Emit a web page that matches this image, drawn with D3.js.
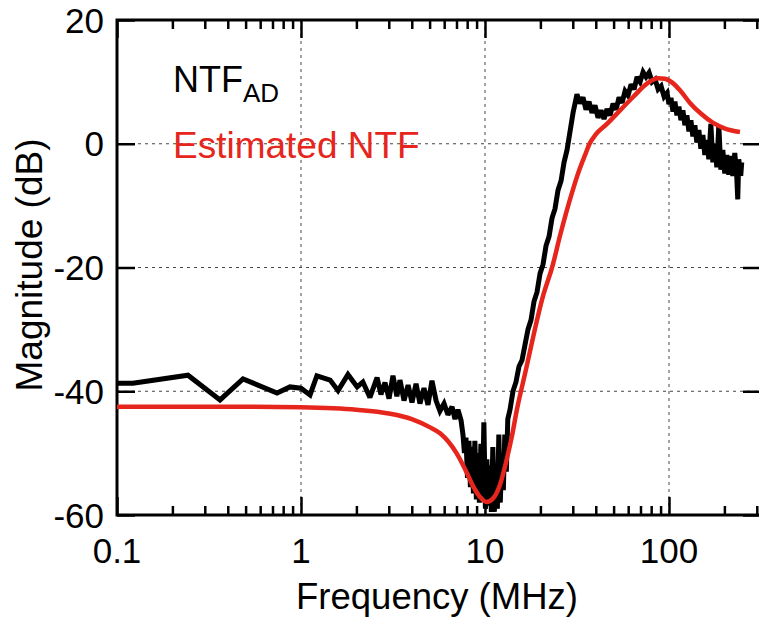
<!DOCTYPE html>
<html>
<head>
<meta charset="utf-8">
<script src="https://cdn.jsdelivr.net/npm/d3@7/dist/d3.min.js"></script>
<style>
  html, body { margin: 0; padding: 0; background: #fff; }
  svg text { font-family: "Liberation Sans", Arial, Helvetica, sans-serif; }
</style>
</head>
<body>
<svg id="chart" width="759" height="622"></svg>
<script>
// Measured noise transfer function (frequency in MHz, magnitude in dB)
const measuredFreq = [
  // low band, coarse sweep
  0.1, 0.122, 0.243, 0.363, 0.484, 0.741, 0.871, 1.0, 1.12, 1.22, 1.44, 1.59, 1.80, 2.02, 2.17,
  2.37, 2.59, 2.72, 2.86, 3.01, 3.16, 3.32, 3.45, 3.63, 3.82, 4.01, 4.22, 4.43, 4.66, 4.90,
  5.15, 5.42, 5.69, 5.99, 6.29, 6.62, 6.87, 7.13, 7.41,
  // notch
  7.59, 7.73, 7.88, 8.03, 8.18, 8.33, 8.49, 8.65, 8.81, 8.98, 9.15, 9.32, 9.50, 9.68, 9.86,
  10.05, 10.24, 10.43, 10.63, 10.83, 11.03, 11.24, 11.45, 11.67, 11.89, 12.11, 12.34, 12.58, 12.81, 13.06,
  13.30,
  // rising edge
  13.67, 14.19, 14.74, 15.30, 15.89, 16.50, 17.13, 17.78, 18.46, 19.17, 19.91, 20.67, 21.46, 22.28, 23.14,
  24.02, 24.94, 25.90, 26.89, 27.92, 28.99, 30.10, 31.1, 31.6,
  // peak region
  32.83, 34.09, 35.39, 36.75, 38.16, 39.62, 41.14, 42.71, 44.35, 46.05, 47.81, 49.65, 51.55, 53.52, 55.57,
  57.70, 59.91, 62.21, 64.59, 67.06, 69.63, 72.30, 75.07, 77.94, 80.93, 84.03, 87.24, 90.58, 94.05, 97.65,
  // upper band
  99.9, 102.5, 105.1, 107.7, 110.4, 113.2, 116.1, 119.0, 122.0, 125.1, 128.3, 131.5, 134.8, 138.2, 141.7,
  145.3, 149.0, 152.8, 156.6, 160.6, 164.6, 168.8, 173.1, 177.5, 181.9, 186.5, 191.3, 196.1, 201.0, 206.1,
  211.3, 216.7, 222.2, 227.8, 233.5, 236.4, 239.4, 245.4, 248.5
];
const measuredDb = [
  -38.7, -38.7, -37.4, -41.4, -38.0, -40.3, -39.3, -39.5, -40.6, -37.5, -38.2, -39.9, -37.3, -39.3, -38.5,
  -41.0, -37.8, -40.5, -38.6, -41.2, -37.5, -40.8, -38.2, -41.5, -39.0, -41.8, -38.8, -42.0, -39.5, -42.2,
  -38.3, -41.5, -43.2, -42.0, -43.8, -42.5, -44.5, -43.0, -44.7,
  -47.0, -50.0, -47.5, -54.0, -48.0, -55.5, -49.0, -56.5, -48.0, -57.5, -50.0, -58.0, -48.5, -57.5, -45.0,
  -59.0, -51.0, -58.5, -52.0, -59.5, -49.0, -59.5, -53.0, -59.0, -47.0, -58.0, -50.0, -56.0, -47.0, -53.0,
  -44.5,
  -43.0, -40.0, -38.5, -36.0, -35.0, -32.5, -30.0, -28.5, -25.5, -24.0, -21.0, -19.5, -16.5, -15.0, -12.0,
  -10.5, -7.5, -6.0, -3.0, -1.0, 2.0, 5.0, 7.0, 8.0,
  6.5, 7.5, 5.5, 6.8, 5.0, 6.2, 4.2, 5.4, 4.0, 5.6, 4.6, 6.5, 5.5, 7.5, 6.6,
  8.5, 7.8, 9.6, 8.8, 10.8, 10.0, 11.6, 10.8, 11.5, 10.0, 10.4, 8.8, 9.3, 7.6, 8.2,
  6.4, 7.4, 5.2, 6.8, 4.6, 6.0, 3.8, 5.4, 3.0, 4.6, 2.0, 3.8, 1.2, 3.0, 0.2,
  2.2, -0.8, 1.4, -1.8, 0.6, -2.5, 3.2, -3.0, 0.0, -3.8, 3.0, -4.2, -1.0, -4.8, -1.8,
  -5.0, -2.0, -5.2, -1.5, -5.3, -9.0, -2.5, -5.2, -3.0
];

// Estimated noise transfer function
const estimatedFreq = [
  0.1, 0.5, 1, 2, 3, 4, 5, 5.7, 7.0, 8.0, 8.6, 9.4, 10.2, 11.0, 12.0, 13.1, 14.0, 14.9,
  16.7, 18.5, 20.5, 23.4, 25.5, 27.7, 30, 32.5, 35, 37, 40, 46, 55, 64, 75, 87, 95, 105,
  115, 130, 150, 173, 200, 243
];
const estimatedDb = [
  -42.5, -42.5, -42.6, -43.0, -43.6, -44.5, -45.8, -46.8, -50.0, -53.3, -55.3, -57.1, -57.9, -57.4, -55.3,
  -51.1, -47.3, -43.0, -36.5, -30.5, -25.0, -19.5, -15.0, -11.0, -7.5, -4.3, -1.8, 0.0, 1.5, 3.2,
  5.6, 7.6, 9.6, 10.6, 10.5, 9.8, 8.6, 6.6, 4.8, 3.4, 2.5, 1.9
];

const xTickValues = [0.1, 1, 10, 100];
const xTickLabels = ["0.1", "1", "10", "100"];
const yTickValues = [20, 0, -20, -40, -60];
const yTickLabels = ["20", "0", "-20", "-40", "-60"];

const svg = d3.select("#chart");
const plotLeft = 117, plotRight = 761, plotTop = 20, plotBottom = 515;

const x = d3.scaleLog().domain([0.1, 316.23]).range([plotLeft, plotRight]);
const y = d3.scaleLinear().domain([-60, 20]).range([plotBottom, plotTop]);

const minorX = [];
for (const dec of [0.1, 1, 10, 100]) {
  for (let k = 2; k <= 9; k++) {
    const v = dec * k;
    if (v <= 316) minorX.push(v);
  }
}

// Dotted grid at the inner major ticks
const grid = svg.append("g").attr("stroke", "#444").attr("stroke-width", 1)
  .attr("stroke-dasharray", "3,4");
xTickValues.filter(v => v > 0.1).forEach(v => {
  grid.append("line").attr("x1", x(v)).attr("x2", x(v)).attr("y1", plotTop).attr("y2", plotBottom);
});
yTickValues.filter(v => v > -60 && v < 20).forEach(v => {
  grid.append("line").attr("x1", plotLeft).attr("x2", plotRight).attr("y1", y(v)).attr("y2", y(v));
});

// Axes drawn with inward ticks
const major = 18, minor = 9;
const axisStyle = g => {
  g.select(".domain").remove();
  g.selectAll(".tick line").attr("stroke", "#000").attr("stroke-width", 2.5);
  g.selectAll(".tick text").remove();
};
svg.append("g").attr("transform", `translate(0,${plotBottom})`)
  .call(d3.axisBottom(x).tickValues(xTickValues).tickSize(-major)).call(axisStyle);
svg.append("g").attr("transform", `translate(0,${plotBottom})`)
  .call(d3.axisBottom(x).tickValues(minorX).tickSize(-minor)).call(axisStyle);
svg.append("g").attr("transform", `translate(0,${plotTop})`)
  .call(d3.axisTop(x).tickValues(xTickValues).tickSize(-major)).call(axisStyle);
svg.append("g").attr("transform", `translate(0,${plotTop})`)
  .call(d3.axisTop(x).tickValues(minorX).tickSize(-minor)).call(axisStyle);
svg.append("g").attr("transform", `translate(${plotLeft},0)`)
  .call(d3.axisLeft(y).tickValues(yTickValues).tickSize(-major)).call(axisStyle);
svg.append("g").attr("transform", `translate(${plotRight},0)`)
  .call(d3.axisRight(y).tickValues(yTickValues).tickSize(-major)).call(axisStyle);

// Frame
svg.append("rect").attr("x", plotLeft).attr("y", plotTop)
  .attr("width", plotRight - plotLeft).attr("height", plotBottom - plotTop)
  .attr("fill", "none").attr("stroke", "#000").attr("stroke-width", 3);

// Curves
const line = d3.line().x(d => x(d[0])).y(d => y(d[1]));
const measured = measuredFreq.map((f, i) => [f, measuredDb[i]]);
const estimated = estimatedFreq.map((f, i) => [f, estimatedDb[i]]);

svg.append("path").datum(measured).attr("d", line)
  .attr("fill", "none").attr("stroke", "#000").attr("stroke-width", 5)
  .attr("stroke-linejoin", "miter").attr("stroke-miterlimit", 2.5);
svg.append("path").datum(estimated).attr("d", d3.line().curve(d3.curveMonotoneX)
    .x(d => x(d[0])).y(d => y(d[1])))
  .attr("fill", "none").attr("stroke", "#e6261c").attr("stroke-width", 4.5);

// Tick labels
const fs = 35;
xTickValues.forEach((v, i) => {
  svg.append("text").attr("x", x(v)).attr("y", 563).attr("text-anchor", "middle")
    .attr("font-size", fs).text(xTickLabels[i]);
});
yTickValues.forEach((v, i) => {
  svg.append("text").attr("x", 104).attr("y", y(v)).attr("dy", "0.36em")
    .attr("text-anchor", "end").attr("font-size", fs).text(yTickLabels[i]);
});

// Axis titles
svg.append("text").attr("x", 437).attr("y", 609).attr("text-anchor", "middle")
  .attr("font-size", 36.5).text("Frequency (MHz)");
svg.append("text").attr("transform", "translate(42,265) rotate(-90)")
  .attr("text-anchor", "middle").attr("font-size", 37).text("Magnitude (dB)");

// Legend
const leg1 = svg.append("text").attr("x", 173).attr("y", 92).attr("font-size", 36).attr("fill", "#000");
leg1.append("tspan").text("NTF");
leg1.append("tspan").attr("dy", 10).attr("font-size", 26).text("AD");
svg.append("text").attr("x", 173).attr("y", 158).attr("font-size", 37)
  .attr("fill", "#e6261c").text("Estimated NTF");
</script>
</body>
</html>
